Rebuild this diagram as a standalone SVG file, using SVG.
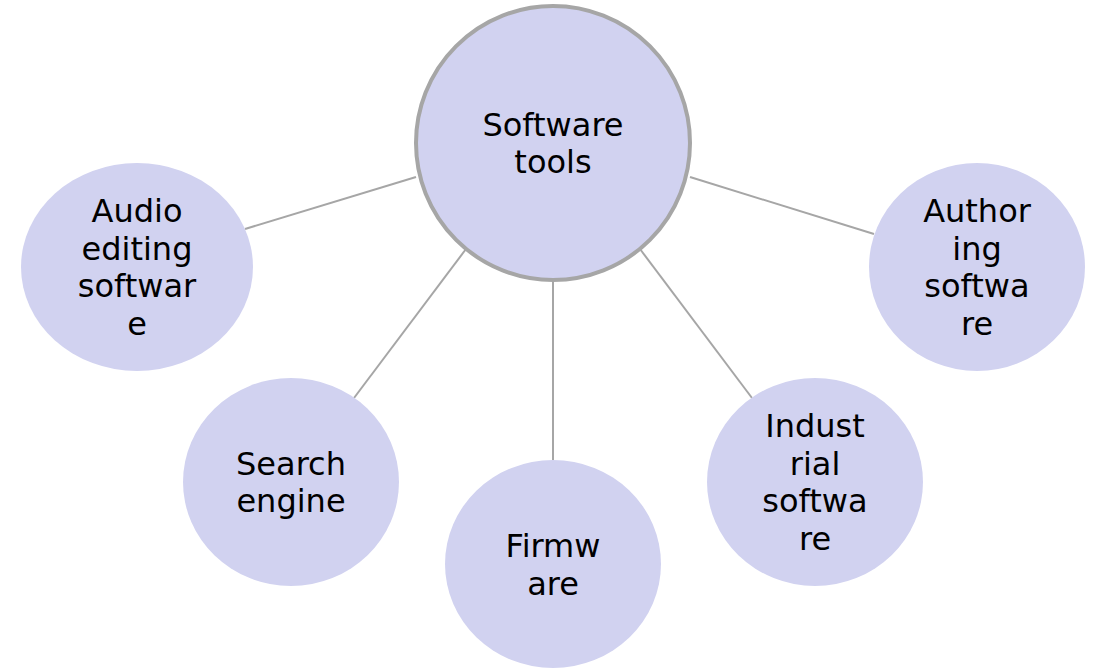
<svg xmlns="http://www.w3.org/2000/svg" width="1096" height="668" viewBox="0 0 1096 668">
<style>
.n{fill:#d1d2f0}
.c{stroke:#a6a6a6;stroke-width:4}
.e line{stroke:#a6a6a6;stroke-width:2}
text{font-family:"DejaVu Sans",Verdana,sans-serif;font-size:32px;fill:#000;text-anchor:middle}
</style>
<rect width="1096" height="668" fill="#fff"/>
<g class="e" id="connectors">
<line x1="416" y1="177" x2="245" y2="229"/>
<line x1="466" y1="249" x2="354" y2="398"/>
<line x1="553" y1="279" x2="553" y2="460"/>
<line x1="640" y1="249" x2="752" y2="398"/>
<line x1="690" y1="177" x2="874" y2="234"/>
</g>
<g id="center">
<circle class="n c" cx="553" cy="143" r="137"/>
<text x="553" y="136">Software</text>
<text x="553" y="173">tools</text>
</g>
<g id="audio">
<ellipse class="n" cx="137" cy="267" rx="116" ry="104"/>
<text x="137" y="222">Audio</text>
<text x="137" y="260">editing</text>
<text x="137" y="297">softwar</text>
<text x="137" y="335">e</text>
</g>
<g id="search">
<ellipse class="n" cx="291" cy="482" rx="108" ry="104"/>
<text x="291" y="475">Search</text>
<text x="291" y="512">engine</text>
</g>
<g id="firmware">
<ellipse class="n" cx="553" cy="564" rx="108" ry="104"/>
<text x="553" y="557">Firmw</text>
<text x="553" y="595">are</text>
</g>
<g id="industrial">
<ellipse class="n" cx="815" cy="482" rx="108" ry="104"/>
<text x="815" y="437">Indust</text>
<text x="815" y="475">rial</text>
<text x="815" y="512">softwa</text>
<text x="815" y="550">re</text>
</g>
<g id="authoring">
<ellipse class="n" cx="977" cy="267" rx="108" ry="104"/>
<text x="977" y="222">Author</text>
<text x="977" y="260">ing</text>
<text x="977" y="297">softwa</text>
<text x="977" y="335">re</text>
</g>
</svg>
